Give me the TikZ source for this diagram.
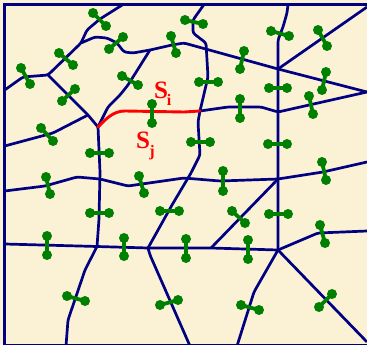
\documentclass[tikz,border=0pt]{standalone}
\usepackage{fontspec}
\setmainfont{Liberation Serif}
\definecolor{paper}{HTML}{FBF1D5}
\definecolor{road}{HTML}{000080}
\definecolor{seed}{HTML}{008000}
\tikzset{
  roadline/.style={draw=road,line width=2.7pt,line join=round,rounded corners=2.5pt},
  frameline/.style={draw=road,line width=2.9pt,line join=miter},
  sharedline/.style={draw=red,line width=2.9pt,line join=round,line cap=round},
  seeddot/.style={circle,fill=seed,inner sep=0pt,minimum size=10pt},
  seedlink/.style={draw=seed,line width=3.8pt},
  labelbig/.style={text=red,font=\fontsize{25}{25}\selectfont\bfseries,inner sep=0pt},
  labelsmall/.style={text=red,font=\fontsize{16}{16}\selectfont\bfseries,inner sep=0pt}
}
\begin{document}
\begin{tikzpicture}[x=1pt,y=-1pt]
\useasboundingbox (0,0) rectangle (367,345);
\fill[paper] (0,0) rectangle (367,345);
\clip (0,0) rectangle (367,345);
% junctions
\coordinate (J1) at (48,75);
\coordinate (J2) at (81,43);
\coordinate (J3) at (150,50);
\coordinate (J4) at (88,115);
\coordinate (J5) at (98,127);
\coordinate (J6) at (97,246.5);
\coordinate (J7) at (148,248);
\coordinate (J8) at (200,111);
\coordinate (J9) at (278,69);
\coordinate (J10) at (278,112);
\coordinate (J11) at (278,179);
\coordinate (J12) at (278,250);
\coordinate (J13) at (211,248);
% frame
\draw[frameline] (367,4.5) -- (4.7,4.5) -- (4.7,345) -- (367,345);
% roads
\draw[roadline] (4.7,90) -- (23,77) -- (J1) -- (J2) -- (87,30) -- (100,19) -- (123,4.5);
\draw[roadline] (J2) -- (95,37) -- (107,38) -- (117,43) -- (124,52) -- (133,53) -- (J3) -- (172,45) -- (184,43) -- (J9) -- (367,92);
\draw[roadline] (J3) -- (128,85) -- (120,95) -- (108,107) -- (J5);
\draw[roadline] (J1) -- (J4) -- (J5);
\draw[roadline] (4.7,146) -- (53,133) -- (J4);
\draw[roadline] (J5) -- (100,172) -- (99,219) -- (J6);
\draw[roadline] (4.7,191) -- (45,186) -- (77,177) -- (100,179) -- (128,186) -- (184,178) -- (220,181) -- (J11) -- (323,172) -- (367,162);
\draw[roadline] (4.7,244) -- (J6) -- (J7) -- (J13) -- (J12);
\draw[roadline] (J7) -- (172,205) -- (191,173) -- (200,155) -- (198,122) -- (J8) -- (208,77) -- (206,43) -- (193,33) -- (193,20) -- (204,4.5);
\draw[roadline] (J8) -- (228,107) -- (261,107) -- (J10) -- (367,92);
\draw[roadline] (288,4.5) -- (287,13) -- (283,27) -- (278,40) -- (J9) -- (J10) -- (J11) -- (J12);
\draw[roadline] (J9) -- (367,7);
\draw[roadline] (J12) -- (318,233) -- (367,231);
\draw[roadline] (J12) -- (254,292) -- (237,346);
\draw[roadline] (J12) -- (367,342);
\draw[roadline] (J13) -- (J11);
\draw[roadline] (J7) -- (150,255) -- (190,346);
\draw[roadline] (J6) -- (85,270) -- (68,320) -- (66,346);
% shared edge
\draw[sharedline] (J5) .. controls (106,119) and (113,111) .. (125,111) -- (184,112) -- (J8);
% seed pairs
\foreach \ax/\ay/\bx/\by [count=\n] in {
  93/13/106/26, 59/53/73/65, 21/68/30/84, 123/37/109/49, 171/36/176/53,
  122/76/138/85, 75/89/62/101, 41/128/53/141, 152/104/152/123, 90/153/109/153,
  185/20/203/24, 244/51/240/69, 271/31/289/36, 318/30/327/46, 199/82/218/82,
  269/88/287/88, 326/72/322/90, 309/96/313/114, 240/99/240/118, 191/142/210/142,
  268/144/287/144, 322/162/326/180, 46/177/50/194, 139/176/144/193, 90/213/109/213,
  160/211/179/211, 47/236/47/255, 124/238/124/256, 67/296/85/301, 178/300/160/305,
  223/171/223/191, 232/211/245/223, 269/214/288/214, 186/239/186/258, 248/240/248/259,
  320/225/325/243, 241/305/259/310, 332/294/319/307}
{
  \node[seeddot] (a\n) at (\ax,\ay) {};
  \node[seeddot] (b\n) at (\bx,\by) {};
  \draw[seedlink,shorten >=-2pt,shorten <=-2pt] (a\n) -- (b\n);
}
% labels
\node[labelbig] (si) at (161,90) {S};
\node[labelsmall] (sii) at (169,99.5) {i};
\node[labelbig] (sj) at (143,140) {S};
\node[labelsmall] (sjj) at (152,153) {j};
\end{tikzpicture}
\end{document}
